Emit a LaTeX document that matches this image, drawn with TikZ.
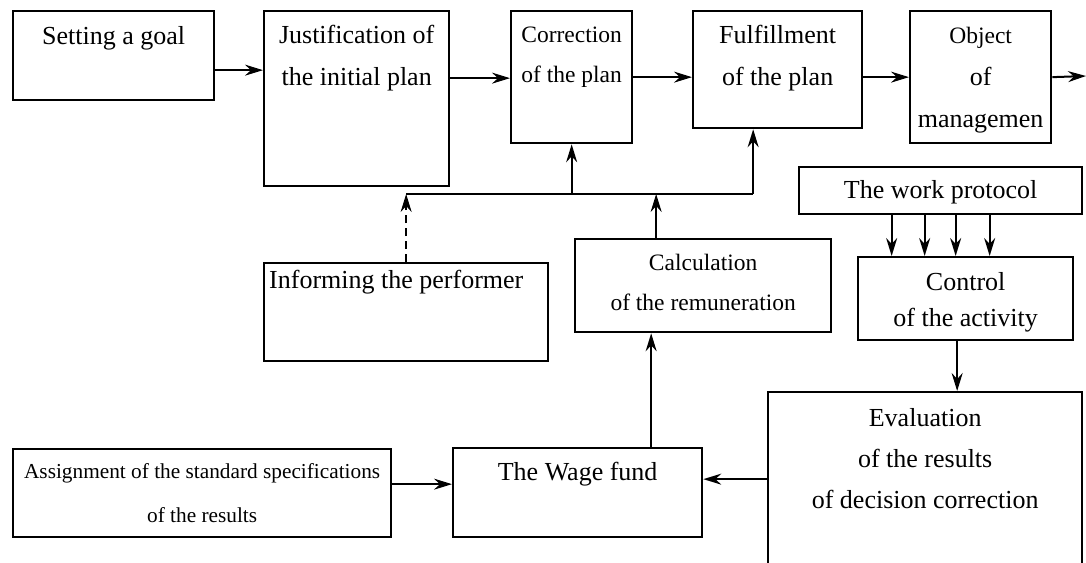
\documentclass[tikz,border=0pt]{standalone}
\usepackage{fontspec}
\setmainfont{Liberation Serif}
\usetikzlibrary{arrows.meta, positioning}
\newcommand{\sizeL}{\fontsize{26}{42}\selectfont}
\newcommand{\sizeS}{\fontsize{23.5}{40}\selectfont}
\newcommand{\sizeT}{\fontsize{21.3}{44}\selectfont}
\tikzstyle{block} = [rectangle, draw=black, line width=2.3pt, anchor=north west, inner sep=0pt]
\tikzstyle{boxtext} = [inner sep=0pt, align=center, font=\sizeL]
\tikzstyle{arrow} = [line width=2pt, -{Stealth[length=18pt, width=11pt, inset=6pt]}]

\begin{document}
\begin{tikzpicture}[x=1pt, y=-1pt]
    \useasboundingbox (0,0) rectangle (1086,562);

    % Planning chain
    \node[block, minimum width=201pt, minimum height=89pt] (goal) at (12,10) {};
    \node[block, minimum width=185pt, minimum height=175pt] (justif) at (263,10) {};
    \node[block, minimum width=121pt, minimum height=132pt] (corr) at (510,10) {};
    \node[block, minimum width=169pt, minimum height=117pt] (fulfil) at (692,10) {};
    \node[block, minimum width=141pt, minimum height=132pt] (object) at (909,10) {};

    % Control branch
    \node[block, minimum width=283pt, minimum height=47pt] (protocol) at (798,166) {};
    \node[block, minimum width=215pt, minimum height=83pt] (control) at (857,256) {};
    \node[block, minimum width=314pt, minimum height=174pt] (eval) at (767,391) {};

    % Feedback and wages
    \node[block, minimum width=284pt, minimum height=98pt] (inform) at (263,262) {};
    \node[block, minimum width=256pt, minimum height=93pt] (calc) at (574,238) {};
    \node[block, minimum width=249pt, minimum height=89pt] (wage) at (452,447) {};
    \node[block, minimum width=378pt, minimum height=88pt] (assign) at (12,448) {};

    % Texts
    \node[boxtext, below=16pt of goal.north] (goal-t) {Setting a goal};
    \node[boxtext, below=15pt of justif.north] (justif-t) {Justification of\\the initial plan};
    \node[boxtext, font=\sizeS, below=17pt of corr.north] (corr-t) {Correction\\of the plan};
    \node[boxtext, below=15pt of fulfil.north] (fulfil-t) {Fulfillment\\of the plan};
    \node[boxtext, below=17pt of object.north] (object-t) {{\sizeS Object}\\of\\managemen};
    \node[boxtext, below=14pt of protocol.north] (protocol-t) {The work protocol};
    \node[boxtext, font=\fontsize{26}{36}\selectfont, below=16pt of control.north] (control-t) {Control\\of the activity};
    \node[boxtext, font=\fontsize{26}{41}\selectfont, below=17pt of eval.north] (eval-t) {Evaluation\\of the results\\of decision correction};
    \node[boxtext, below right=8pt and 6pt of inform.north west] (inform-t) {Informing the performer};
    \node[boxtext, font=\sizeS, below=16pt of calc.north] (calc-t) {Calculation\\of the remuneration};
    \node[boxtext, below=15pt of wage.north] (wage-t) {The Wage fund};
    \node[boxtext, font=\sizeT, below=15.5pt of assign.north] (assign-t) {Assignment of the standard specifications\\of the results};

    % Main flow
    \coordinate (out) at (1086,76);
    \coordinate (g1) at ([yshift=-14.5pt]goal.east);
    \coordinate (j1) at ([yshift=20.5pt]justif.east);
    \draw[arrow] (g1) -- (g1 -| justif.west);
    \draw[arrow] (j1) -- (j1 -| corr.west);
    \draw[arrow] (corr.east) -- (corr.east -| fulfil.west);
    \draw[arrow] (object.west -| fulfil.east) -- (object.west);
    \draw[arrow] (object.east) -- (out);

    % Feedback bus
    \coordinate (bus) at (570,194);
    \coordinate (f1) at ([xshift=-24.5pt]fulfil.south);
    \coordinate (k1) at ([xshift=-47pt]calc.north);
    \draw[line width=2pt] (inform.north |- bus) -- (f1 |- bus);
    \draw[arrow] (corr.south |- bus) -- (corr.south);
    \draw[arrow] (f1 |- bus) -- (f1);
    \draw[arrow, dash pattern=on 8pt off 5pt] (inform.north) -- (inform.north |- bus);
    \draw[arrow] (k1) -- (k1 |- bus);

    % Protocol to control
    \foreach \dx [count=\i] in {-49,-16,15,49} {
        \coordinate (p\i) at ([xshift=\dx pt]protocol.south);
        \draw[arrow] (p\i) -- (p\i |- control.north);
    }
    \coordinate (c1) at ([xshift=-8.5pt]control.south);
    \draw[arrow] (c1) -- (c1 |- eval.north);

    % Evaluation and wages
    \draw[arrow] (eval.west) -- (eval.west -| wage.east);
    \coordinate (w1) at ([xshift=73.5pt]wage.north);
    \draw[arrow] (w1) -- (w1 |- calc.south);
    \coordinate (a1) at ([yshift=9pt]assign.east);
    \draw[arrow] (a1) -- (a1 -| wage.west);

\end{tikzpicture}
\end{document}
